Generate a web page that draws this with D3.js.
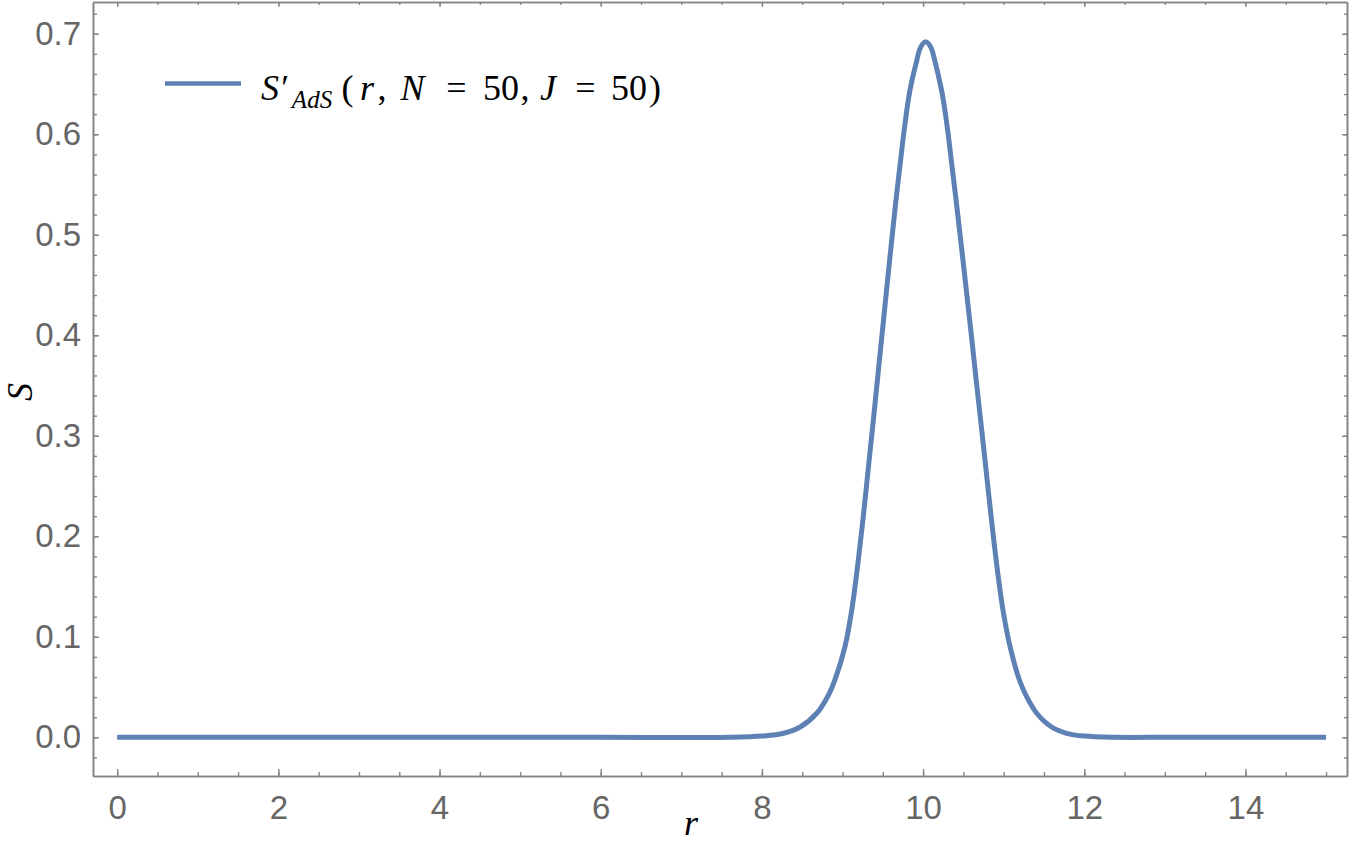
<!DOCTYPE html>
<html>
<head>
<meta charset="utf-8">
<script src="https://cdn.jsdelivr.net/npm/d3@7"></script>
<style>
  html, body { margin: 0; padding: 0; background: #fff; }
  svg { display: block; }
</style>
</head>
<body>
<svg id="chart" width="1353" height="844"></svg>
<script>
// ---- data ----
const rValues = [0, 2, 4, 6, 7.6, 8.0, 8.27, 8.48, 8.68, 8.815, 8.905, 9.030, 9.108, 9.166, 9.215, 9.262,
  9.305, 9.348, 9.391, 9.433, 9.496, 9.538, 9.580, 9.623, 9.668, 9.716, 9.765, 9.822, 9.862, 9.912, 9.970,
  10.033,
  10.095, 10.155, 10.203, 10.245, 10.305, 10.355, 10.405, 10.453, 10.500, 10.546, 10.592, 10.659, 10.705,
  10.750, 10.795, 10.840, 10.887, 10.938, 10.998, 11.080, 11.195, 11.285, 11.41, 11.59, 11.78, 12.0, 12.4,
  13, 14, 15];
const sValues = [0, 0, 0, 0, 0, 0.0012, 0.004, 0.0105, 0.0239, 0.0404, 0.057, 0.090, 0.1233, 0.1564, 0.1895, 0.2227,
  0.2558, 0.289, 0.322, 0.3553, 0.405, 0.438, 0.471, 0.504, 0.5375, 0.5707, 0.604, 0.637, 0.6536, 0.670, 0.6867,
  0.692,
  0.6867, 0.670, 0.6536, 0.637, 0.604, 0.5707, 0.5375, 0.504, 0.471, 0.438, 0.405, 0.3553, 0.322,
  0.289, 0.2558, 0.2227, 0.1895, 0.1564, 0.1233, 0.090, 0.057, 0.0404, 0.0239, 0.0105, 0.004, 0.0012, 0,
  0, 0, 0];
const xMajorTicks = [0, 2, 4, 6, 8, 10, 12, 14];
const xMinorTicks = d3.range(0, 15.01, 0.5);
const yMajorTicks = [0.0, 0.1, 0.2, 0.3, 0.4, 0.5, 0.6, 0.7];
const yMinorTicks = d3.range(-0.02, 0.7201, 0.02);

// ---- layout ----
const svg = d3.select("#chart");
const padL = 93, padR = 1347, padT = 2, padB = 776;
const x = d3.scaleLinear().domain([-0.3, 15.26]).range([padL, padR]);
const y = d3.scaleLinear().domain([-0.0385, 0.7316]).range([padB, padT]);

const frameColor = "#858585";
const labelColor = "#666666";
const tickFont = "'Liberation Sans', Arial, Helvetica, sans-serif";
const serif = "'Liberation Serif', 'DejaVu Serif', 'Noto Serif', serif";

function styleAxis(g, showText) {
  g.select(".domain").attr("stroke", frameColor).attr("stroke-width", 1.6);
  g.selectAll(".tick line").attr("stroke", frameColor).attr("stroke-width", 1.4);
  g.selectAll(".tick text").attr("fill", labelColor).attr("font-family", tickFont).attr("font-size", 33);
  if (!showText) g.selectAll(".tick text").remove();
}

// minor ticks (bottom, top, left, right)
svg.append("g").attr("transform", `translate(0,${padB})`)
  .call(d3.axisBottom(x).tickValues(xMinorTicks).tickSize(-4).tickSizeOuter(0).tickFormat(""))
  .call(g => styleAxis(g, false));
svg.append("g").attr("transform", `translate(0,${padT})`)
  .call(d3.axisTop(x).tickValues(xMinorTicks).tickSize(-3).tickSizeOuter(0).tickFormat(""))
  .call(g => styleAxis(g, false));
svg.append("g").attr("transform", `translate(${padL},0)`)
  .call(d3.axisLeft(y).tickValues(yMinorTicks).tickSize(-4).tickSizeOuter(0).tickFormat(""))
  .call(g => styleAxis(g, false));
svg.append("g").attr("transform", `translate(${padR},0)`)
  .call(d3.axisRight(y).tickValues(yMinorTicks).tickSize(-3).tickSizeOuter(0).tickFormat(""))
  .call(g => styleAxis(g, false));

// major ticks
svg.append("g").attr("transform", `translate(0,${padB})`)
  .call(d3.axisBottom(x).tickValues(xMajorTicks).tickSize(-7).tickSizeOuter(0).tickPadding(20).tickFormat(d3.format("d")))
  .call(g => styleAxis(g, true));
svg.append("g").attr("transform", `translate(0,${padT})`)
  .call(d3.axisTop(x).tickValues(xMajorTicks).tickSize(-5).tickSizeOuter(0).tickFormat(""))
  .call(g => styleAxis(g, false));
svg.append("g").attr("transform", `translate(${padL},0)`)
  .call(d3.axisLeft(y).tickValues(yMajorTicks).tickSize(-6).tickSizeOuter(0).tickPadding(12).tickFormat(d3.format(".1f")))
  .call(g => styleAxis(g, true));
svg.append("g").attr("transform", `translate(${padR},0)`)
  .call(d3.axisRight(y).tickValues(yMajorTicks).tickSize(-5).tickSizeOuter(0).tickFormat(""))
  .call(g => styleAxis(g, false));

// curve
const lineColor = "#5E81B5";
const pts = rValues.map((r, i) => [r, sValues[i]]);
svg.append("path")
  .datum(pts)
  .attr("fill", "none")
  .attr("stroke", lineColor)
  .attr("stroke-width", 5)
  .attr("stroke-linejoin", "round")
  .attr("d", d3.line().x(d => x(d[0])).y(d => y(d[1])).curve(d3.curveCatmullRom.alpha(0.5)));

// axis labels
svg.append("text")
  .attr("x", 691).attr("y", 835)
  .attr("text-anchor", "middle")
  .attr("font-family", serif).attr("font-style", "italic").attr("font-size", 36)
  .attr("fill", "#000").text("r");
svg.append("text")
  .attr("transform", "translate(32,392) rotate(-90)")
  .attr("text-anchor", "middle")
  .attr("font-family", serif).attr("font-style", "italic").attr("font-size", 36)
  .attr("fill", "#000").text("S");

// legend
svg.append("line")
  .attr("x1", 165).attr("x2", 241).attr("y1", 83.5).attr("y2", 83.5)
  .attr("stroke", lineColor).attr("stroke-width", 4.5);

const leg = svg.append("text")
  .attr("font-family", serif).attr("font-size", 36).attr("fill", "#000")
  .attr("text-anchor", "middle");
const base = 99.5;
const parts = [
  {t: "S′", x: 274, it: true},
  {t: "AdS", x: 312, it: true, size: 25, yy: 107.5},
  {t: "(", x: 347.5, it: false},
  {t: "r", x: 367, it: true},
  {t: ",", x: 382, it: false},
  {t: "N", x: 412.5, it: true},
  {t: "=", x: 456.5, it: false},
  {t: "50", x: 501, it: false},
  {t: ",", x: 525, it: false},
  {t: "J", x: 548, it: true},
  {t: "=", x: 585.5, it: false},
  {t: "50", x: 629, it: false},
  {t: ")", x: 655, it: false}
];
parts.forEach(p => {
  leg.append("tspan")
    .attr("x", p.x).attr("y", p.yy || base)
    .attr("font-style", p.it ? "italic" : "normal")
    .attr("font-size", p.size || 36)
    .text(p.t);
});
</script>
</body>
</html>
